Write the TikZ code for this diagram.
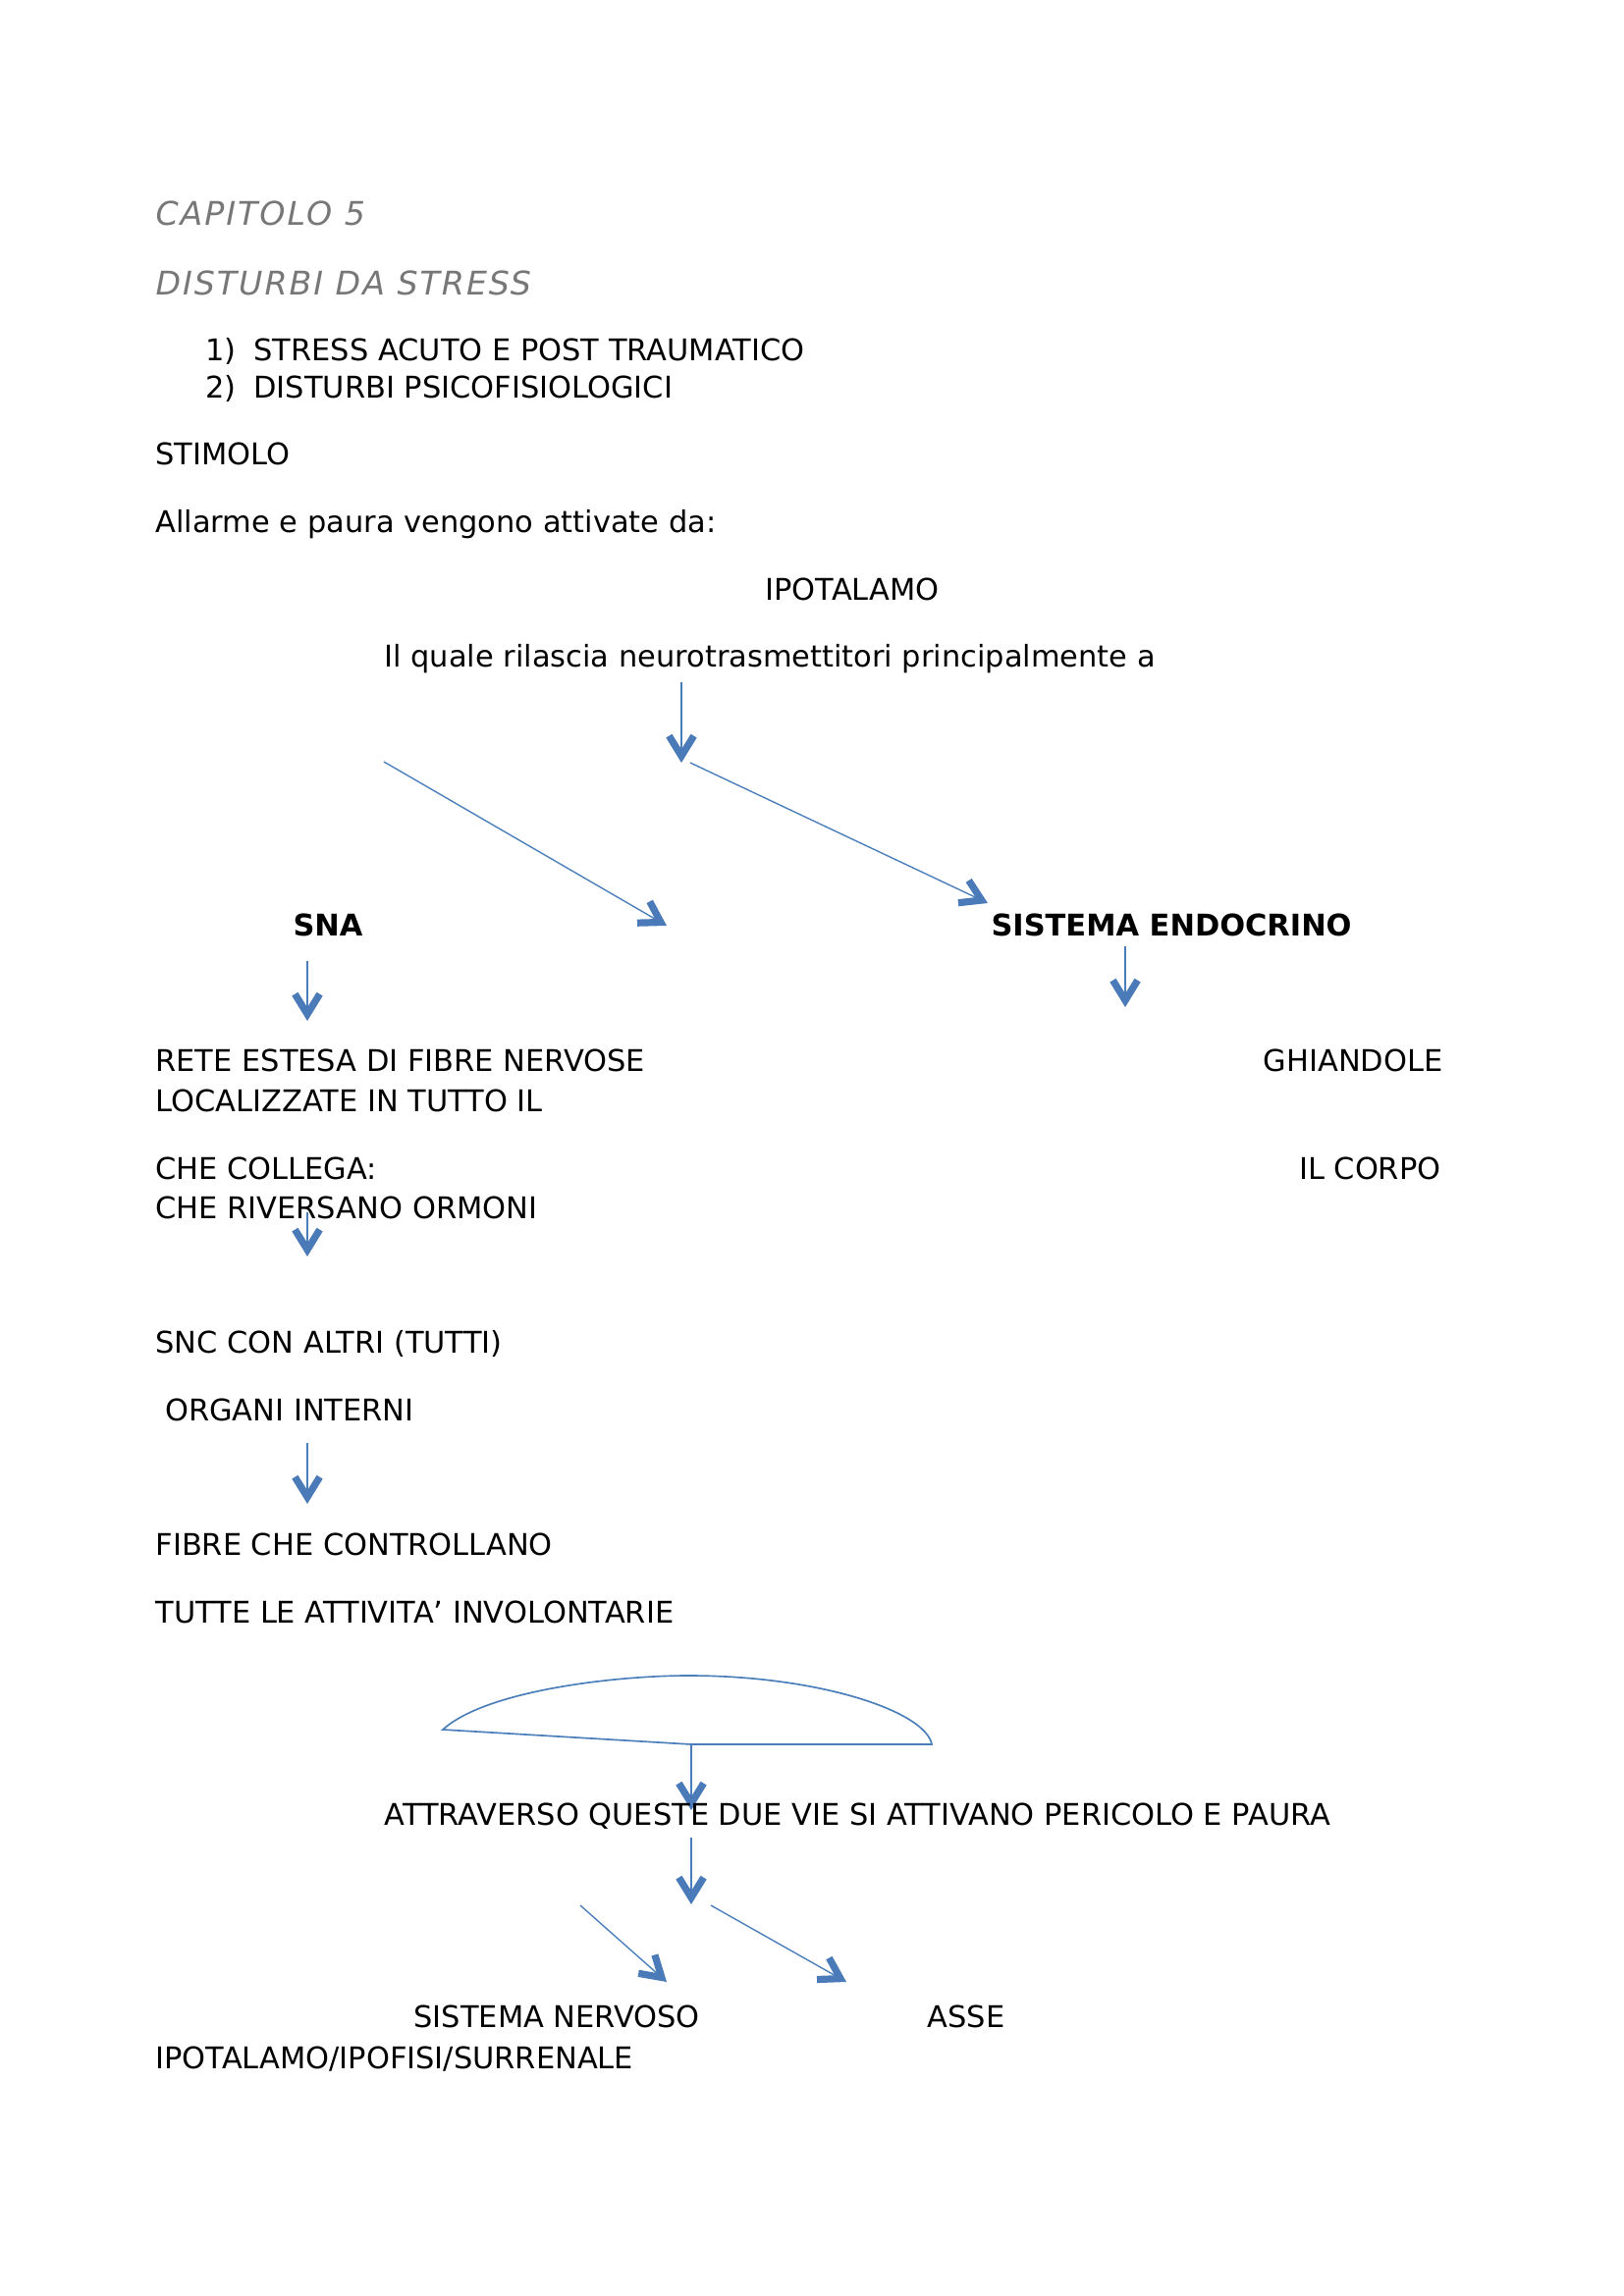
\documentclass[tikz,border=0pt]{standalone}
\usepackage{fontspec}
\setmainfont{DejaVu Sans}
\usepackage{xcolor}
\usetikzlibrary{arrows.meta}

\definecolor{linec}{HTML}{4A7EBB}
\definecolor{tipc}{HTML}{4A7AB8}
\definecolor{headc}{HTML}{777777}

\begin{document}
\begin{tikzpicture}[
  x=0.1270mm,
  y=-0.1270mm,
  every node/.style={font=\fontsize{11pt}{13pt}\selectfont},
  txt/.style={anchor=base west,inner sep=0pt},
  rtxt/.style={anchor=base east,inner sep=0pt},
  head/.style={txt,text=headc,
    font=\fontsize{12pt}{14pt}\selectfont\itshape\addfontfeatures{LetterSpace=6}},
  bold/.style={txt,font=\fontsize{11pt}{13pt}\selectfont\bfseries},
  flow/.style={
    draw=linec,
    line width=0.5pt,
    -{Straight Barb[length=2.6mm,width=3.2mm,line width=2.6pt,color=tipc]}
  }
]
\useasboundingbox (0,0) rectangle (1653,2339);

% Headings and list.
\node[head] (cap) at (158,230) {CAPITOLO 5};
\node[head] (dist) at (158,301) {DISTURBI DA STRESS};
\node[txt] (n1) at (209,368) {1)};
\node[txt] (l1) at (258,368) {STRESS ACUTO E POST TRAUMATICO};
\node[txt] (n2) at (209,406) {2)};
\node[txt] (l2) at (258,406) {DISTURBI PSICOFISIOLOGICI};

\node[txt] (stim) at (158,474) {STIMOLO};
\node[txt] (allarme) at (158,543) {Allarme e paura vengono attivate da:};
\node[txt] (ipot) at (779,612) {IPOTALAMO};
\node[txt] (quale) at (391,680) {Il quale rilascia neurotrasmettitori principalmente a};

% Arrow ends.
\coordinate (a1s) at (694,695);
\coordinate (a1e) at (694,777);
\coordinate (a2s) at (391,776);
\coordinate (a2e) at (679,943);
\coordinate (a3s) at (703,777);
\coordinate (a3e) at (1006,920);

\draw[flow] (a1s) -- (a1e);
\draw[flow] (a2s) -- (a2e);
\draw[flow] (a3s) -- (a3e);

% The two branches.
\node[bold] (sna) at (298,953) {SNA};
\node[bold] (endo) at (1009,953) {SISTEMA ENDOCRINO};

\coordinate (a4s) at (313,979);
\coordinate (a4e) at (313,1040);
\coordinate (a5s) at (1146,964);
\coordinate (a5e) at (1146,1026);
\draw[flow] (a4s) -- (a4e);
\draw[flow] (a5s) -- (a5e);

\node[txt] (rete) at (158,1091) {RETE ESTESA DI FIBRE NERVOSE};
\node[rtxt] (ghia) at (1470,1091) {GHIANDOLE};
\node[txt] (loc) at (158,1132) {LOCALIZZATE IN TUTTO IL};
\node[txt] (coll) at (158,1201) {CHE COLLEGA:};
\node[rtxt] (corpo) at (1468,1201) {IL CORPO};
\node[txt] (ormoni) at (158,1241) {CHE RIVERSANO ORMONI};

\coordinate (a6s) at (313,1235);
\coordinate (a6e) at (313,1280);
\draw[flow] (a6s) -- (a6e);

\node[txt] (snc) at (158,1378) {SNC CON ALTRI (TUTTI)};
\node[txt] (organi) at (158,1447) {\ ORGANI INTERNI};

\coordinate (a7s) at (313,1470);
\coordinate (a7e) at (313,1532);
\draw[flow] (a7s) -- (a7e);

\node[txt] (fibre) at (158,1584) {FIBRE CHE CONTROLLANO};
\node[txt] (tutte) at (158,1653) {TUTTE LE ATTIVITA’ INVOLONTARIE};

% Lid joining the two ways.
\coordinate (lidl) at (451,1762);
\coordinate (lidr) at (949,1777);
\coordinate (lidk) at (704,1777);
\draw[draw=linec,line width=0.6pt]
  (lidl)
  .. controls (495,1722) and (627,1707) .. (701,1707)
  .. controls (836,1707) and (943,1744) .. (lidr)
  -- (lidk) -- cycle;

\coordinate (a8e) at (704,1844);
\draw[flow] (lidk) -- (a8e);

\node[txt] (attr) at (391,1859) {ATTRAVERSO QUESTE DUE VIE SI ATTIVANO PERICOLO E PAURA};

\coordinate (a9s) at (704,1872);
\coordinate (a9e) at (704,1940);
\coordinate (a10s) at (591,1941);
\coordinate (a10e) at (679,2019);
\coordinate (a11s) at (724,1941);
\coordinate (a11e) at (862,2019);
\draw[flow] (a9s) -- (a9e);
\draw[flow] (a10s) -- (a10e);
\draw[flow] (a11s) -- (a11e);

\node[txt] (snerv) at (421,2065) {SISTEMA NERVOSO};
\node[txt] (asse) at (944,2065) {ASSE};
\node[txt] (ips) at (158,2107) {IPOTALAMO/IPOFISI/SURRENALE};

\end{tikzpicture}
\end{document}
